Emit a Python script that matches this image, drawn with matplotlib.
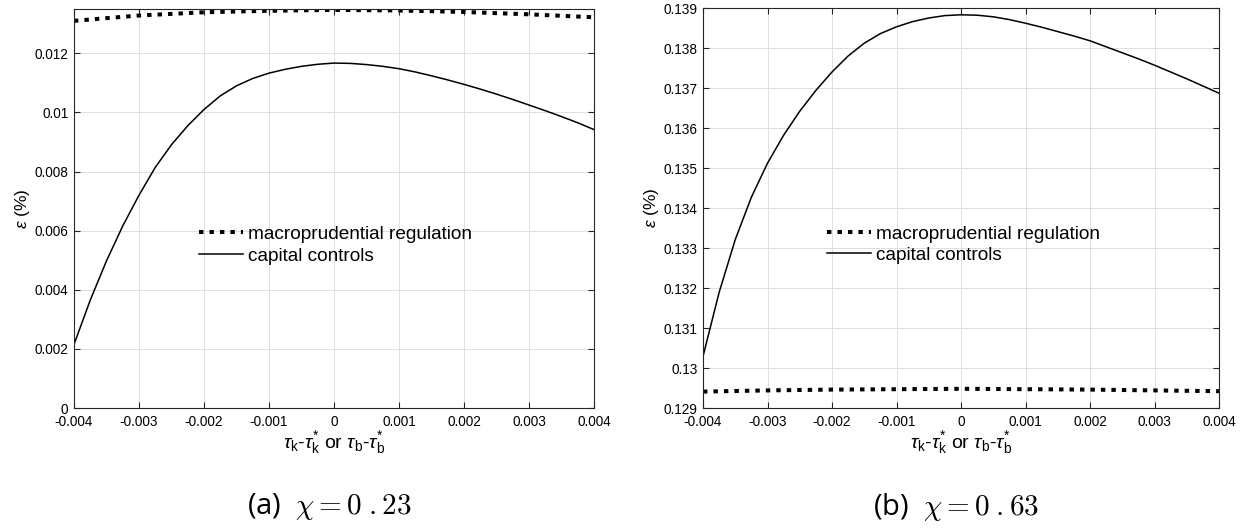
import matplotlib
matplotlib.use("Agg")
import matplotlib.pyplot as plt
from matplotlib.ticker import FuncFormatter, MultipleLocator
from matplotlib.lines import Line2D

plt.rcParams['font.family'] = ['Liberation Sans', 'DejaVu Sans']
plt.rcParams['mathtext.fontset'] = 'custom'
plt.rcParams['mathtext.rm'] = 'Liberation Sans'
plt.rcParams['mathtext.it'] = 'Liberation Sans:italic'
plt.rcParams['mathtext.bf'] = 'Liberation Sans:bold'

# tax deviation grid for the welfare curves under capital controls
tau_dev = [-0.004, -0.00375, -0.0035, -0.00325, -0.003, -0.00275, -0.0025,
           -0.00225, -0.002, -0.00175, -0.0015, -0.00125, -0.001, -0.00075,
           -0.0005, -0.00025, 0.0, 0.00025, 0.0005, 0.00075, 0.001, 0.00125,
           0.0015, 0.00175, 0.002, 0.00225, 0.0025, 0.00275, 0.003, 0.00325,
           0.0035, 0.00375, 0.004]
# coarser grid for the nearly flat macroprudential curves
tau_dev_macro = [-0.004, -0.003, -0.002, -0.001, 0.0, 0.001, 0.002, 0.003, 0.004]

# panel (a): chi = 0.23
cap_a = [0.00215, 0.00365, 0.00498, 0.00616, 0.00720, 0.00814, 0.00891,
         0.00955, 0.01010, 0.01056, 0.01090, 0.01115, 0.01133, 0.01146,
         0.01156, 0.01163, 0.01167, 0.01166, 0.01162, 0.01156, 0.01148,
         0.01137, 0.01124, 0.01110, 0.01095, 0.01079, 0.01062, 0.01044,
         0.01025, 0.01006, 0.00986, 0.00965, 0.00942]
macro_a = [0.01310, 0.01328, 0.01339, 0.01344, 0.01347, 0.01345, 0.01340,
           0.01332, 0.01322]

# panel (b): chi = 0.63
cap_b = [0.13029, 0.13189, 0.13321, 0.13427, 0.13512, 0.13582, 0.13642,
         0.13694, 0.13740, 0.13780, 0.13812, 0.13836, 0.13853, 0.13866,
         0.13875, 0.13881, 0.13883, 0.13882, 0.13878, 0.13871, 0.13862,
         0.13852, 0.13841, 0.13830, 0.13818, 0.13803, 0.13788, 0.13773,
         0.13757, 0.13740, 0.13723, 0.13705, 0.13687]
macro_b = [0.12941, 0.12944, 0.12946, 0.12947, 0.12948, 0.12947, 0.12946,
           0.12944, 0.12942]

legend_labels = ['macroprudential regulation', 'capital controls']
captions = [r'(a)  $\chi = 0\;.23$', r'(b)  $\chi = 0\;.63$']
xlabel = r'$\tau_{\mathrm{k}}$-$\tau_{\mathrm{k}}^{*}$ or $\tau_{\mathrm{b}}$-$\tau_{\mathrm{b}}^{*}$'
ylabel = r'$\epsilon$ (%)'

W, H = 1253, 529
fig = plt.figure(figsize=(W / 100, H / 100), dpi=100)

axis_col = '#262626'
grid_col = '#dfdfdf'
dot_style = (0, (1.1, 1.5))

panels = [
    dict(rect=(74, 9, 594, 408), cap=cap_a, macro=macro_a, ylim=(0, 0.0135),
         ystep=0.002, caption=captions[0]),
    dict(rect=(703, 8, 1219, 408), cap=cap_b, macro=macro_b, ylim=(0.129, 0.139),
         ystep=0.001, caption=captions[1]),
]

fmt = FuncFormatter(lambda v, p: ('%g' % round(v, 6)))

for pnl in panels:
    x0, y0, x1, y1 = pnl['rect']
    ax = fig.add_axes([x0 / W, 1 - y1 / H, (x1 - x0) / W, (y1 - y0) / H])
    ax.plot(tau_dev_macro, pnl['macro'], color='black', lw=2.9,
            linestyle=dot_style, dash_capstyle='butt')
    ax.plot(tau_dev, pnl['cap'], color='black', lw=1.1)
    ax.set_xlim(-0.004, 0.004)
    ax.set_ylim(*pnl['ylim'])
    ax.xaxis.set_major_locator(MultipleLocator(0.001))
    ax.yaxis.set_major_locator(MultipleLocator(pnl['ystep']))
    ax.xaxis.set_major_formatter(fmt)
    ax.yaxis.set_major_formatter(fmt)
    ax.grid(True, color=grid_col, lw=0.7)
    ax.set_axisbelow(True)
    for s in ax.spines.values():
        s.set_color(axis_col)
        s.set_linewidth(0.8)
    ax.tick_params(direction='in', length=4, width=0.8, color=axis_col,
                   top=True, right=True, labelsize=9.8, labelcolor='black')
    ax.tick_params(axis='x', pad=5)
    ax.tick_params(axis='y', pad=4)
    ax.set_xlabel(xlabel, fontsize=14, labelpad=0)
    ax.set_ylabel(ylabel, fontsize=12.5, labelpad=2)

    handles = [Line2D([], [], color='black', lw=2.9, linestyle=dot_style,
                      dash_capstyle='butt'),
               Line2D([], [], color='black', lw=1.1)]
    ax.legend(handles, legend_labels, loc='upper left',
              bbox_to_anchor=(0.215, 0.49), frameon=False, fontsize=13.7,
              handlelength=2.3, handletextpad=0.25, labelspacing=0.22,
              borderpad=0.2)

    fig.text(((x0 + x1) / 2 - 5) / W, 1 - 507 / H, pnl['caption'],
             ha='center', va='center', fontsize=21,
             family=['Open Sans', 'DejaVu Sans'], math_fontfamily='cm')

fig.savefig('out.png', dpi=100)
